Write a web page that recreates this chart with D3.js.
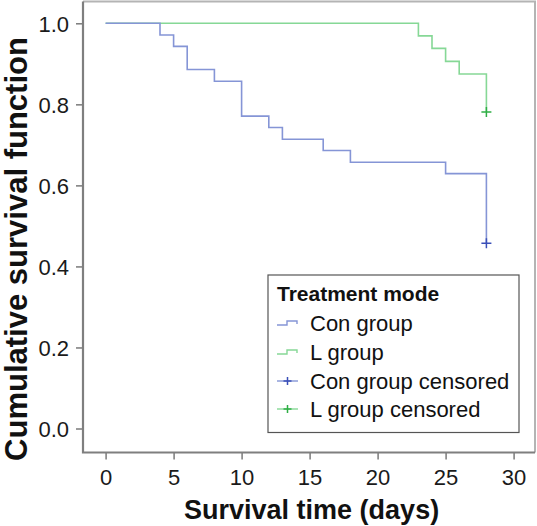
<!DOCTYPE html>
<html><head><meta charset="utf-8">
<script src="https://cdn.jsdelivr.net/npm/d3@7"></script>
<style>html,body{margin:0;padding:0;background:#fff;}svg{display:block;font-family:"Liberation Sans",Arial,sans-serif;}</style>
</head><body><svg id="c" width="537" height="526"></svg>
<script>
// Data
const conTimes = [0, 4, 5, 6, 8, 10, 12, 13, 16, 18, 25, 28];
const conSurv  = [1.0, 0.971, 0.943, 0.886, 0.857, 0.771, 0.743, 0.714, 0.686, 0.657, 0.629, 0.457];
const lTimes   = [0, 23, 24, 25, 26, 28];
const lSurv    = [1.0, 0.969, 0.938, 0.906, 0.875, 0.781];
const conCensored = [[28, 0.457]];
const lCensored   = [[28, 0.781]];
const xTicks = [0, 5, 10, 15, 20, 25, 30];
const yTicks = [0.0, 0.2, 0.4, 0.6, 0.8, 1.0];
const legendTitle = "Treatment mode";
const legendItems = ["Con group", "L group", "Con group censored", "L group censored"];

const conColor = "#8595d6", lColor = "#86d896";
const conMark = "#3a4fb8", lMark = "#2fae45";

const svg = d3.select("#c");
const x = d3.scaleLinear().domain([0, 30]).range([105.6, 513.6]);
const y = d3.scaleLinear().domain([0, 1]).range([428.5, 23.3]);
const frame = {l: 83, r: 535, t: 1.5, b: 452.5};

// frame top/right (light)
svg.append("path").attr("d", `M${frame.l},${frame.t}H${frame.r}V${frame.b}`)
  .attr("fill", "none").attr("stroke", "#b4b4b4").attr("stroke-width", 2);

// axes
const yAxis = d3.axisLeft(y).tickValues(yTicks).tickFormat(d3.format(".1f")).tickSize(7).tickPadding(7);
const gy = svg.append("g").attr("transform", `translate(${frame.l},0)`).call(yAxis);
gy.select(".domain").remove();
gy.selectAll(".tick line").attr("stroke", "#7a7a7a").attr("stroke-width", 1.5);
gy.selectAll(".tick text").attr("font-size", 22).attr("fill", "#1a1a1a").attr("dy", "0.36em");

const xAxis = d3.axisBottom(x).tickValues(xTicks).tickSize(7).tickPadding(10);
const gx = svg.append("g").attr("transform", `translate(0,${frame.b})`).call(xAxis);
gx.select(".domain").remove();
gx.selectAll(".tick line").attr("stroke", "#7a7a7a").attr("stroke-width", 1.5);
gx.selectAll(".tick text").attr("font-size", 22).attr("fill", "#1a1a1a").attr("dy", "0.71em");

svg.append("path").attr("d", `M${frame.l},${frame.t}V${frame.b}H${frame.r}`)
  .attr("fill", "none").attr("stroke", "#7f7f7f").attr("stroke-width", 2.2);

// step curves
function stepPath(ts, ss) {
  const pts = ts.map((t, i) => [t, ss[i]]);
  return d3.line().x(d => x(d[0])).y(d => y(d[1])).curve(d3.curveStepAfter)(pts);
}
svg.append("path").attr("d", stepPath(lTimes, lSurv)).attr("fill", "none")
  .attr("stroke", lColor).attr("stroke-width", 1.6);
svg.append("path").attr("d", stepPath(conTimes, conSurv)).attr("fill", "none")
  .attr("stroke", conColor).attr("stroke-width", 1.6);

function plus(g, cx, cy, col, s) {
  g.append("path").attr("d", `M${cx - s},${cy}H${cx + s}M${cx},${cy - s}V${cy + s}`)
    .attr("stroke", col).attr("stroke-width", 1.5).attr("fill", "none");
}
conCensored.forEach(d => plus(svg, x(d[0]), y(d[1]), conMark, 5));
lCensored.forEach(d => plus(svg, x(d[0]), y(d[1]), lMark, 5));

// axis titles
svg.append("text").attr("x", (x(0) + x(30)) / 2 + 2).attr("y", 519)
  .attr("text-anchor", "middle").attr("font-size", 27).attr("font-weight", "bold")
  .attr("fill", "#111").text("Survival time (days)");
svg.append("text").attr("transform", `translate(27,${249}) rotate(-90)`)
  .attr("text-anchor", "middle").attr("font-size", 31).attr("font-weight", "bold")
  .attr("fill", "#111").text("Cumulative survival function");

// legend
const lg = svg.append("g");
lg.append("rect").attr("x", 268).attr("y", 275).attr("width", 251).attr("height", 157.5)
  .attr("fill", "#fff").attr("stroke", "#555").attr("stroke-width", 1.2);
lg.append("text").attr("x", 277).attr("y", 301).attr("font-size", 21).attr("font-weight", "bold")
  .attr("fill", "#111").text(legendTitle);
const itemY = [323, 352, 381, 409];
const itemCol = [conColor, lColor, conMark, lMark];
legendItems.forEach((name, i) => {
  const cy = itemY[i];
  if (i < 2) {
    lg.append("path").attr("d", `M277,${cy + 2}H287V${cy - 2}H297V${cy + 1}`)
      .attr("fill", "none").attr("stroke", itemCol[i]).attr("stroke-width", 1.4);
  } else {
    lg.append("path").attr("d", `M277,${cy}H298`).attr("stroke", itemCol[i === 2 ? 0 : 1]).attr("stroke-width", 1.4);
    plus(lg, 287.5, cy, itemCol[i], 4);
  }
  lg.append("text").attr("x", 310).attr("y", cy).attr("dy", "0.36em").attr("font-size", 22)
    .attr("fill", "#111").text(name);
});
</script></body></html>
